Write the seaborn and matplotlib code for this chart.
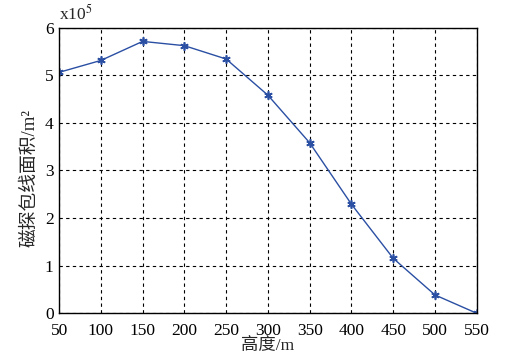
import numpy as np
import matplotlib
matplotlib.use('Agg')
import matplotlib.pyplot as plt
import seaborn as sns
import pandas as pd

sns.set_style('white')
plt.rcParams['font.family'] = ['Liberation Serif', 'Noto Sans CJK SC']
plt.rcParams['mathtext.fontset'] = 'stix'

# height (m) and magnetic survey envelope area (x1e5 m^2)
height = [50, 100, 150, 200, 250, 300, 350, 400, 450, 500, 550]
area = [5.06, 5.31, 5.71, 5.62, 5.34, 4.58, 3.58, 2.29, 1.155, 0.385, 0.0]
x_ticks = [50, 100, 150, 200, 250, 300, 350, 400, 450, 500, 550]
y_ticks = [0, 1, 2, 3, 4, 5, 6]

df = pd.DataFrame({'height': height, 'area': area})

font_size = 12.5
fig = plt.figure(figsize=(5.05, 3.63), dpi=100)
ax = fig.add_axes([0.117, 0.137, 0.827, 0.787])

sns.lineplot(data=df, x='height', y='area', ax=ax, color='#2a4fa3',
             linewidth=1.0, marker=(6, 2, 0), markersize=6,
             markeredgecolor='#2a4fa3', markeredgewidth=1.2)

ax.set_xlim(50, 550)
ax.set_ylim(0, 6)
ax.set_xticks(x_ticks)
ax.set_yticks(y_ticks)
ax.grid(True, color='black', linestyle=(0, (3, 3)), linewidth=0.8)
for spine in ax.spines.values():
    spine.set_color('black')
    spine.set_linewidth(1.0)
ax.tick_params(axis='both', direction='in', length=4, labelsize=font_size,
               colors='black')
ax.tick_params(axis='x', pad=7)
ax.tick_params(axis='y', pad=4)

ax.set_xlabel('高度/m', fontsize=font_size, labelpad=-1)
ax.set_ylabel('磁探包线面积/m²', fontsize=13.5)
ax.yaxis.set_label_coords(-0.05, 0.473)
ax.text(0.0, 1.012, 'x10$^5$', transform=ax.transAxes, fontsize=font_size,
        ha='left', va='bottom')

fig.savefig('out.png', dpi=100)
